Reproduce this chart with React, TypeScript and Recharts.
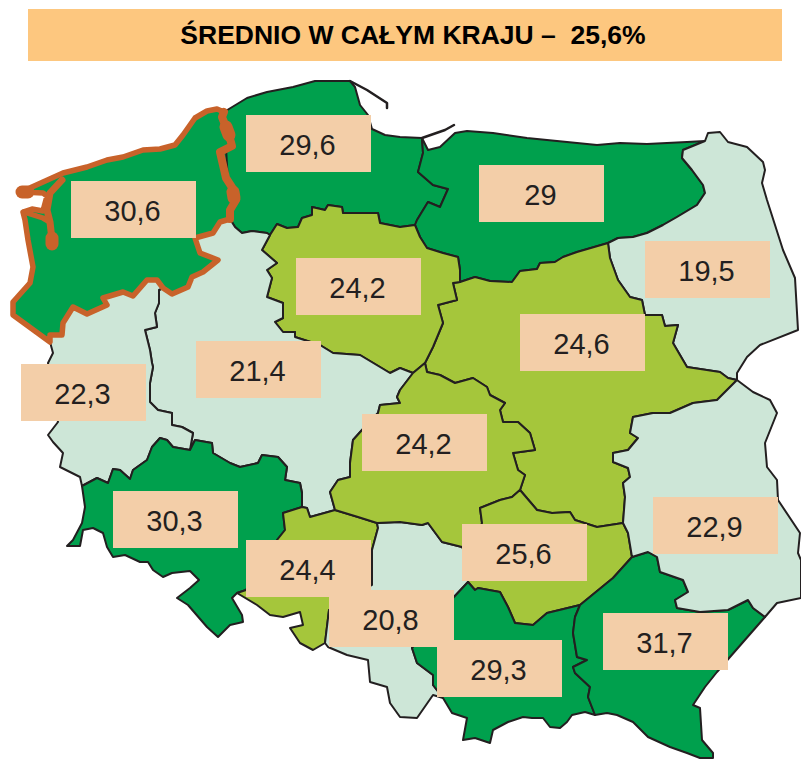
import { ScatterChart, Scatter, XAxis, YAxis, ReferenceArea } from "recharts";

type Pt = number[];

const TITLE = "ŚREDNIO W CAŁYM KRAJU –\u00a0\u00a025,6%";

const DARK = "#00a04d";
const LIME = "#a5c63b";
const PALE = "#cde6d7";
const LINE = "#231f20";
const ORANGE = "#c8622a";

// borders, one array per stretch shared by two regions
const zachCoast: Pt[] = [[224,112],[217,109],[207,111],[195,118],[183,135],[175,145],[160,149],[143,150],[123,157],[107,160],[87,167],[63,173],[43,182],[32,187],[22,192],[43,193],[47,196],[43,211],[32,209],[23,212],[25,220],[28,240],[33,267],[30,283],[13,302],[13,315],[50,342]];
const zachLubuskie: Pt[] = [[50,342],[50,335],[62,335],[63,323],[73,307],[87,314],[107,305],[103,298],[123,292],[133,296],[147,280],[157,280],[163,288]];
const zachWlkp: Pt[] = [[163,288],[172,294],[188,287],[192,277],[203,272],[218,260],[200,253],[195,238],[213,233],[220,222],[230,219]];
const zachPom: Pt[] = [[230,219],[230,210],[236,200],[235,192],[226,178],[220,152],[232,146],[229,135],[222,117],[224,112]];
const pomCoast: Pt[] = [[224,112],[247,98],[267,92],[293,87],[315,81],[350,81],[355,87],[360,105],[368,115],[372,129],[385,135],[400,137],[422,138]];
const pomWarm: Pt[] = [[422,138],[423,153],[418,172],[433,185],[448,189],[440,207],[428,202],[417,220],[415,225]];
const pomKuj: Pt[] = [[415,225],[400,227],[380,223],[378,213],[358,213],[343,213],[342,207],[328,205],[325,210],[312,207],[312,215],[302,218],[298,227],[287,228],[277,224],[270,235]];
const pomWlkp: Pt[] = [[270,235],[267,233],[252,231],[242,233],[235,227],[230,219]];
const warmCoast: Pt[] = [[422,138],[428,150],[440,147],[455,133],[467,131],[493,133],[527,138],[567,142],[597,145],[620,143],[647,144],[687,142],[705,141]];
const warmPodl: Pt[] = [[705,141],[683,150],[682,158],[692,170],[703,185],[705,193],[697,205],[677,217],[663,225],[647,233],[633,237],[618,238],[608,243]];
const warmMaz: Pt[] = [[608,243],[577,252],[563,257],[555,262],[540,263],[537,269],[520,271],[512,282],[490,281],[475,277],[460,282]];
const warmKuj: Pt[] = [[460,282],[460,270],[458,257],[443,253],[427,248],[420,237],[415,225]];
const podlEast: Pt[] = [[705,141],[708,133],[720,132],[728,142],[747,147],[763,162],[765,170],[762,183],[767,200],[783,250],[795,278],[798,330],[760,345],[747,357],[737,373],[737,380]];
const podlMaz: Pt[] = [[737,380],[728,378],[720,372],[687,367],[673,343],[678,325],[665,326],[662,315],[645,315],[642,300],[630,297],[618,280],[610,258],[608,243]];
const kujMaz: Pt[] = [[460,282],[453,283],[457,300],[438,305],[443,323],[433,347],[425,363]];
const mazLodz: Pt[] = [[425,363],[427,372],[440,375],[455,383],[473,378],[487,387],[490,395],[505,403],[500,410],[503,422],[518,422],[530,433],[535,450],[513,453],[518,470],[525,475],[520,490]];
const mazSwiet: Pt[] = [[520,490],[537,510],[552,513],[570,512],[575,520],[597,527],[623,523]];
const mazLub: Pt[] = [[623,523],[625,497],[623,483],[630,477],[628,468],[613,462],[613,453],[628,450],[638,438],[630,433],[633,417],[653,413],[670,413],[693,403],[717,400],[725,392],[737,380]];
const lubEast: Pt[] = [[765,617],[777,603],[801,598],[801,560],[798,553],[800,533],[778,500],[777,480],[767,467],[765,443],[777,413],[770,400],[753,392],[737,380]];
const lubPodk: Pt[] = [[632,557],[648,552],[657,557],[660,572],[683,580],[688,592],[675,600],[677,608],[700,612],[728,610],[748,600],[753,608],[765,617]];
const swietLub: Pt[] = [[623,523],[628,533],[632,557]];
const swietPodk: Pt[] = [[632,557],[613,578],[580,605]];
const swietMalo: Pt[] = [[580,605],[547,613],[533,625],[515,623],[508,607],[500,592],[478,588],[475,590],[468,582]];
const slaskSwiet: Pt[] = [[470,560],[468,582]];
const lodzSwiet: Pt[] = [[470,560],[482,523],[480,508],[500,500],[512,497],[520,490]];
const kujLodz: Pt[] = [[425,363],[413,373]];
const kujWlkp: Pt[] = [[413,373],[400,368],[390,373],[380,367],[360,355],[333,353],[320,345],[295,337],[295,332],[283,332],[275,322],[283,318],[283,303],[267,297],[272,278],[267,270],[277,263],[262,250],[270,235]];
const lodzWlkp: Pt[] = [[413,373],[400,390],[397,397],[400,403],[380,405],[378,413],[362,430],[353,440],[350,463],[350,477],[338,480],[330,492],[335,510]];
const wlkpOpole: Pt[] = [[335,510],[328,512],[310,517],[307,508],[302,507]];
const wlkpDolno: Pt[] = [[302,507],[302,493],[300,483],[285,480],[287,467],[278,457],[262,455],[258,463],[240,467],[230,463],[213,453],[212,443],[195,440],[190,450]];
const wlkpLub: Pt[] = [[190,450],[193,433],[182,427],[172,425],[172,413],[158,410],[150,402],[150,383],[153,367],[152,363],[150,350],[145,330],[157,327],[155,313],[159,303],[159,290],[163,288]];
const lubDolno: Pt[] = [[190,450],[173,447],[167,440],[160,438],[152,447],[147,460],[133,470],[130,479],[120,470],[113,469],[108,483],[97,478],[82,486]];
const lubWest: Pt[] = [[82,486],[80,477],[60,467],[63,453],[53,442],[48,435],[58,422],[48,363],[53,353],[50,342]];
const dolnoOpole: Pt[] = [[302,507],[283,513],[285,530],[277,540],[246,590],[237,593]];
const dolnoSouth: Pt[] = [[237,593],[232,598],[242,615],[243,622],[230,625],[218,637],[207,627],[188,605],[177,598],[190,588],[199,580],[190,571],[172,573],[163,577],[153,570],[148,562],[140,562],[125,555],[113,557],[107,547],[103,533],[93,528],[83,530],[80,546],[67,546],[73,540],[82,523],[85,507],[82,486]];
const opoleLodz: Pt[] = [[335,510],[358,517],[377,523]];
const opoleSlask: Pt[] = [[377,523],[378,528],[372,550],[372,585],[329,610],[325,643]];
const opoleSouth: Pt[] = [[325,643],[313,650],[300,643],[290,628],[303,625],[300,612],[283,617],[270,615],[257,605],[237,593]];
const lodzSlask: Pt[] = [[377,523],[400,522],[422,525],[428,523],[442,542],[462,547],[470,560]];
const slaskMalo: Pt[] = [[468,582],[453,598],[412,648],[417,663],[433,675],[433,685],[443,698]];
const slaskSouth: Pt[] = [[443,698],[433,695],[417,718],[400,717],[390,703],[387,687],[370,682],[368,660],[347,655],[328,647],[325,643]];
const maloPodk: Pt[] = [[580,605],[575,617],[573,633],[577,657],[587,660],[573,667],[575,673],[590,687],[588,697],[595,715]];
const maloSouth: Pt[] = [[595,715],[585,712],[572,715],[567,722],[560,728],[550,727],[543,718],[532,718],[523,717],[508,722],[493,730],[490,743],[475,738],[463,740],[467,718],[452,713],[443,698]];
const podkSouth: Pt[] = [[765,617],[730,657],[717,672],[705,687],[693,705],[700,708],[702,740],[713,753],[713,758],[700,758],[687,753],[670,747],[648,737],[633,722],[617,715],[607,713],[595,715]];

// loose lines that belong to no region
const helLine: Pt[] = [[350,81],[367,90],[387,103],[387,108]];
const spitLine: Pt[] = [[422,138],[445,130],[454,125]];
const lagoonOrange: Pt[] = [[62,180],[50,193],[47,210],[50,222],[52,240]];
const lagoonLower: Pt[] = [[24,212],[43,218],[50,222]];
const orangeBlobs: Pt[][] = [[[52,238],[52,244]],[[233,192],[234,198]],[[22,192],[28,192]],[[226,127],[229,135]]];

const labelValues = ["30,6","29,6","29","24,2","19,5","24,6","21,4","22,3","24,2","30,3","24,4","20,8","25,6","29,3","31,7","22,9"];
const labelX = [133.5,308.5,541.5,358.5,707.5,582.5,258.5,83.5,424.5,175.5,308.5,391.5,524.5,499.5,665.5,715.5];
const labelY = [209.5,143.5,193.5,286.5,269.5,342.5,369.5,392.5,442.5,519.5,568.5,618.5,552.5,668.5,641.5,525.5];

const rev = (a: Pt[]) => [...a].reverse();
const join = (...parts: Pt[][]) => parts.flat();
const toData = (a: Pt[]) => a.map(([x, y]) => ({ x, y }));

const regions = [
  { fill: DARK, outline: join(pomCoast, pomWarm, pomKuj, pomWlkp, rev(zachPom)) },
  { fill: DARK, outline: join(warmCoast, warmPodl, warmMaz, warmKuj, rev(pomWarm)) },
  { fill: PALE, outline: join(podlEast, podlMaz, rev(warmPodl)) },
  { fill: LIME, outline: join(warmMaz, kujMaz, mazLodz, mazSwiet, mazLub, podlMaz) },
  { fill: LIME, outline: join(rev(pomKuj), rev(warmKuj), kujMaz, kujLodz, kujWlkp) },
  { fill: PALE, outline: join(rev(pomWlkp), rev(kujWlkp), lodzWlkp, wlkpOpole, wlkpDolno, wlkpLub, zachWlkp) },
  { fill: PALE, outline: join(zachLubuskie, rev(wlkpLub), lubDolno, lubWest) },
  { fill: DARK, outline: join(rev(lubDolno), rev(wlkpDolno), dolnoOpole, dolnoSouth) },
  { fill: LIME, outline: join(rev(dolnoOpole), rev(wlkpOpole), opoleLodz, opoleSlask, opoleSouth) },
  { fill: PALE, outline: join(rev(opoleSlask), lodzSlask, slaskSwiet, slaskMalo, slaskSouth) },
  { fill: LIME, outline: join(rev(mazLodz), kujLodz, lodzWlkp, opoleLodz, lodzSlask, lodzSwiet) },
  { fill: LIME, outline: join(mazSwiet, swietLub, swietPodk, swietMalo, rev(slaskSwiet), lodzSwiet) },
  { fill: DARK, outline: join(rev(swietMalo), maloPodk, maloSouth, rev(slaskMalo)) },
  { fill: DARK, outline: join(rev(swietPodk), lubPodk, podkSouth, rev(maloPodk)) },
  { fill: PALE, outline: join(rev(mazLub), swietLub, lubPodk, lubEast) },
];
const zachOutline = join(zachCoast, zachLubuskie, zachWlkp, zachPom);

const labelData = labelValues.map((value, i) => ({ x: labelX[i], y: labelY[i], value }));

const noDot = () => <g />;

// Scatter hands its scaled points to the line renderer, which closes them into a region
const drawPath = (fill: string, stroke: string, width: number, closed: boolean) => (props: any) => {
  const d = props.points.map((p: any, i: number) => `${i ? "L" : "M"}${p.x},${p.y}`).join("") + (closed ? "Z" : "");
  return <path d={d} fill={fill} stroke={stroke} strokeWidth={width} strokeLinejoin="round" strokeLinecap="round" />;
};

const ValueBox = (props: any) => (
  <g>
    <rect x={props.cx - 62.5} y={props.cy - 28.5} width={125} height={57} fill="#f3cea8" />
    <text x={props.cx - 1} y={props.cy + 11.5} textAnchor="middle" fontSize={29} fontFamily="Liberation Sans" fill={LINE}>
      {props.payload.value}
    </text>
  </g>
);

const TitleText = (props: any) => (
  <text
    x={props.viewBox.x + props.viewBox.width / 2 + 8}
    y={props.viewBox.y + 34.5}
    textAnchor="middle"
    fontSize={26.5}
    fontWeight={700}
    fontFamily="Liberation Sans"
    fill="#000"
  >
    {TITLE}
  </text>
);

export default function App() {
  return (
    <div style={{ position: "absolute", left: 0, top: 0, width: 801, height: 759, background: "#fff" }}>
      <ScatterChart width={801} height={759} margin={{ top: 0, right: 0, bottom: 0, left: 0 }}>
        <XAxis type="number" dataKey="x" domain={[0, 801]} hide />
        <YAxis type="number" dataKey="y" domain={[0, 759]} reversed hide width={0} />
        <ReferenceArea x1={28} x2={782} y1={9} y2={61} fill="#fdc77f" fillOpacity={1} stroke="none" label={TitleText} />
        {regions.map((r, i) => (
          <Scatter key={i} data={toData(r.outline)} line={drawPath(r.fill, LINE, 2, true)} shape={noDot} isAnimationActive={false} />
        ))}
        <Scatter data={toData(helLine)} line={drawPath("none", LINE, 2.5, false)} shape={noDot} isAnimationActive={false} />
        <Scatter data={toData(spitLine)} line={drawPath("none", LINE, 2.5, false)} shape={noDot} isAnimationActive={false} />
        <Scatter data={toData(zachOutline)} line={drawPath(DARK, ORANGE, 5.5, true)} shape={noDot} isAnimationActive={false} />
        <Scatter data={toData(zachPom)} line={drawPath("none", ORANGE, 8, false)} shape={noDot} isAnimationActive={false} />
        <Scatter data={toData(lagoonOrange)} line={drawPath("none", ORANGE, 7, false)} shape={noDot} isAnimationActive={false} />
        <Scatter data={toData(lagoonLower)} line={drawPath("none", ORANGE, 5.5, false)} shape={noDot} isAnimationActive={false} />
        {orangeBlobs.map((b, i) => (
          <Scatter key={i} data={toData(b)} line={drawPath("none", ORANGE, 13, false)} shape={noDot} isAnimationActive={false} />
        ))}
        <Scatter data={labelData} shape={ValueBox} isAnimationActive={false} />
      </ScatterChart>
    </div>
  );
}
